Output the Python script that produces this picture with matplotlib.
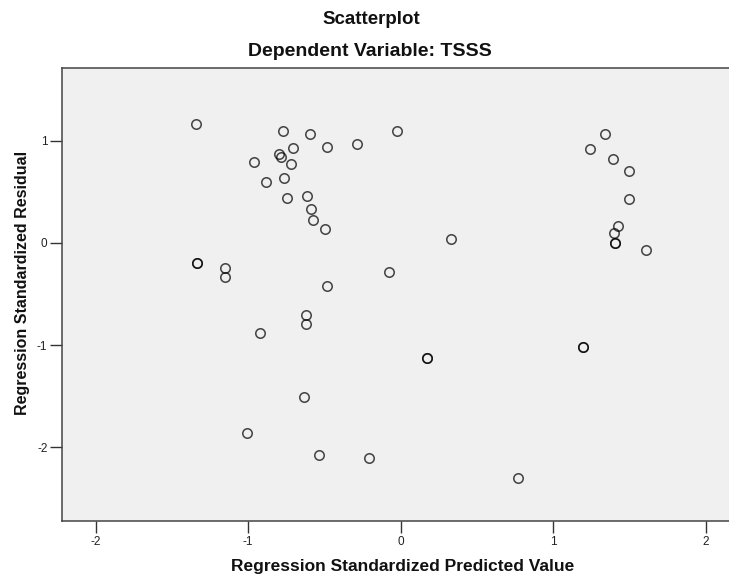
import matplotlib
matplotlib.use("Agg")
import matplotlib.pyplot as plt

plt.rcParams['font.family'] = ['Liberation Sans', 'DejaVu Sans']

# Regression standardized predicted value (x) and residual (y)
pred = [-1.339, -0.769, -0.594, -0.024, -0.706, -0.485, -0.288, -0.799, -0.784,
        -0.961, -0.721, -0.765, -0.881, -0.747, -0.616, -0.588, -0.573, -0.494,
        0.328, 1.341, 1.239, 1.393, 1.496, 1.496, 1.422, 1.398, 1.404, 1.404,
        1.607, -1.335, -1.335, -1.151, -1.151, -0.077, -0.481, -0.619, -0.621,
        -0.922, 0.170, 0.170, 1.195, 1.195, -0.632, -1.005, -0.533, -0.210, 0.769]
resid = [1.164, 1.101, 1.069, 1.101, 0.934, 0.938, 0.968, 0.870, 0.846,
         0.791, 0.772, 0.640, 0.601, 0.441, 0.464, 0.336, 0.228, 0.134,
         0.042, 1.072, 0.925, 0.824, 0.703, 0.431, 0.170, 0.095, -0.003, -0.003,
         -0.066, -0.199, -0.199, -0.242, -0.330, -0.284, -0.422, -0.709, -0.794,
         -0.882, -1.125, -1.125, -1.020, -1.020, -1.507, -1.866, -2.075, -2.108, -2.301]

xticks = [-2, -1, 0, 1, 2]
yticks = [-2, -1, 0, 1]

fig = plt.figure(figsize=(7.29, 5.80), dpi=100)
ax = fig.add_axes([62/729, 1 - 521/580, 1 - 62/729, (521 - 67.5)/580])
ax.set_facecolor('#f0f0f0')

ax.plot(pred, resid, 'o', mfc='none', mec='black', alpha=0.7,
        markersize=6.8, markeredgewidth=1.15, linestyle='none')

ax.set_xlim(-2.22, 2.151)
ax.set_ylim(-2.725, 1.72)
ax.set_xticks(xticks)
ax.set_yticks(yticks)
ax.set_xticklabels([str(t) for t in xticks])
ax.set_yticklabels([str(t) for t in yticks])
ax.tick_params(axis='both', direction='out', length=8.5, width=1.0,
               color='#333333', labelsize=8.5, labelcolor='#222222', pad=2)

for side in ['left', 'top', 'bottom']:
    ax.spines[side].set_color('#444444')
    ax.spines[side].set_linewidth(1.1)
ax.spines['right'].set_visible(False)

fig.text(371/729, 1 - 20/580, 'Scatterplot', ha='center', va='center',
         fontsize=13.5, fontweight='bold', color='#111111')
fig.text(370/729, 1 - 52/580, 'Dependent Variable: TSSS', ha='center', va='center',
         fontsize=14, fontweight='bold', color='#111111')
fig.text(403/729, 1 - 567/580, 'Regression Standardized Predicted Value',
         ha='center', va='center', fontsize=12.5, fontweight='bold', color='#111111')
fig.text(22.5/729, 1 - 283/580, 'Regression Standardized Residual', ha='center',
         va='center', rotation=90, fontsize=11.5, fontweight='bold', color='#111111')

fig.savefig('out.png', dpi=100)
